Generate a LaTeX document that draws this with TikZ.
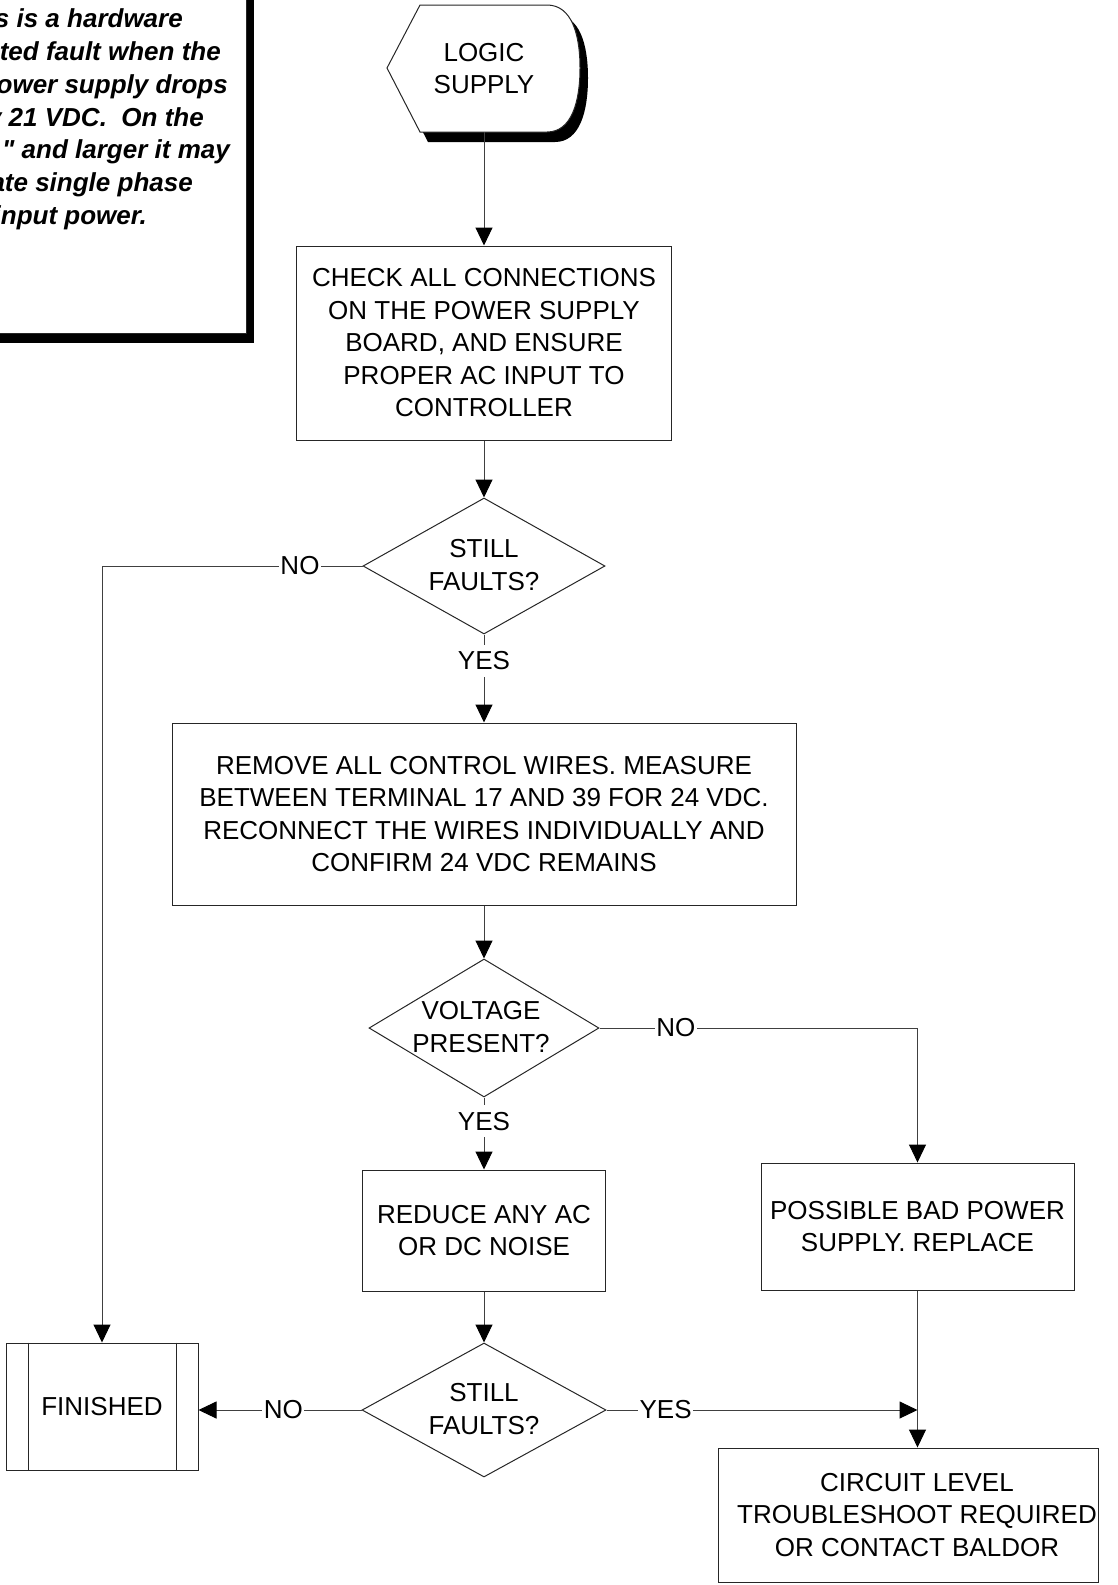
\documentclass[tikz,border=0pt]{standalone}
\usepackage{fontspec}
\setmainfont{Liberation Sans}[Ligatures=TeXOff]
\usetikzlibrary{shapes.geometric,arrows.meta}

\begin{document}
\begin{tikzpicture}[x=1pt,y=-1pt,
  every node/.style={font=\fontsize{26}{32.5}\selectfont},
  ink/.style={draw=black!85, line width=1pt},
  box/.style={ink, fill=white, rectangle, align=center, inner sep=0pt},
  dia/.style={ink, fill=white, diamond, inner sep=0pt},
  txt/.style={align=center, inner sep=0pt},
  note/.style={inner sep=0pt, font=\fontsize{26}{32.5}\selectfont\bfseries\itshape},
  conn/.style={draw=black!75, line width=1pt, -{Triangle[length=18pt,width=17pt,color=black]}},
  lab/.style={fill=white, inner xsep=1.5pt, inner ysep=7pt},
  shade/.style={fill=black},
]
\useasboundingbox (0,0) rectangle (1118,1585);

% side note with drop shadow
\fill[shade] (-22,-22) rectangle (254,343);
\draw[ink, fill=white] (-30,-32) rectangle (246,333);
\node[note, anchor=base east] (n1) at (183,27)  {s is a hardware};
\node[note, anchor=base east] (n2) at (221,60)  {ted fault when the};
\node[note, anchor=base east] (n3) at (228,93)  {ower supply drops};
\node[note, anchor=base east] (n4) at (204,126) {y 21 VDC.\ \ On the};
\node[note, anchor=base east] (n5) at (230,158) {" and larger it may};
\node[note, anchor=base east] (n6) at (193,191) {ate single phase};
\node[note, anchor=base east] (n7) at (147,224) {input power.};

% start terminal (display symbol) with drop shadow
\fill[shade, shift={(8,10)}] (387,68) -- (420,5) -- (547,5)
  .. controls (572,5) and (580,35) .. (580,68)
  .. controls (580,101) and (572,132) .. (547,132) -- (420,132) -- cycle;
\draw[ink, fill=white] (387,68) -- (420,5) -- (547,5)
  .. controls (572,5) and (580,35) .. (580,68)
  .. controls (580,101) and (572,132) .. (547,132) -- (420,132) -- cycle;
\node[txt, minimum width=193, minimum height=127] (logic) at (484,68.5) {LOGIC\\SUPPLY};

% process boxes and decisions
\node[box, minimum width=375, minimum height=194] (check) at (484,343)
  {CHECK ALL CONNECTIONS\\ON THE POWER SUPPLY\\BOARD, AND ENSURE\\PROPER AC INPUT TO\\CONTROLLER};

\node[dia, minimum width=242, minimum height=136] (q1) at (484,566) {};
\node[txt] (q1t) at (484,565) {STILL\\FAULTS?};

\node[box, minimum width=624, minimum height=182] (remove) at (484,814)
  {REMOVE ALL CONTROL WIRES. MEASURE\\BETWEEN TERMINAL 17 AND 39 FOR 24 VDC.\\RECONNECT THE WIRES INDIVIDUALLY AND\\CONFIRM 24 VDC REMAINS};

\node[dia, minimum width=230, minimum height=138] (q2) at (484,1028) {};
\node[txt] (q2t) at (481,1027) {VOLTAGE\\PRESENT?};

\node[box, minimum width=243, minimum height=121] (reduce) at (484,1230.5)
  {REDUCE ANY AC\\OR DC NOISE};

\node[box, minimum width=313, minimum height=127] (bad) at (917.5,1226.5)
  {POSSIBLE BAD POWER\\SUPPLY. REPLACE};

\node[dia, minimum width=244, minimum height=134] (q3) at (484,1410) {};
\node[txt] (q3t) at (484,1409) {STILL\\FAULTS?};

% predefined-process terminal
\node[box, minimum width=192, minimum height=127] (fin) at (102,1406.5) {FINISHED};
\draw[ink] ([xshift=23]fin.north west) -- ([xshift=23]fin.south west);
\draw[ink] ([xshift=-22]fin.north east) -- ([xshift=-22]fin.south east);

\node[box, minimum width=380, minimum height=134] (circ) at (908,1515) {};
\node[txt] (circt) at (917,1515) {CIRCUIT LEVEL\\TROUBLESHOOT REQUIRED\\OR CONTACT BALDOR};

% connectors
\draw[conn] (logic.south) -- (check.north);
\draw[conn] (check.south) -- (q1.north);
\draw[conn] (q1.south) -- node[lab, pos=0.3] {YES} (remove.north);
\draw[conn] (q1.west) -- node[lab, pos=0.24] {NO} (q1.west -| fin.north) -- (fin.north);
\draw[conn] (remove.south) -- (q2.north);
\draw[conn] (q2.east) -- node[lab, pos=0.24] {NO} (q2.east -| bad.north) -- (bad.north);
\draw[conn] (q2.south) -- node[lab, pos=0.33] {YES} (reduce.north);
\draw[conn] (reduce.south) -- (q3.north);
\draw[conn] (q3.west) -- node[lab, pos=0.48] {NO} (q3.west -| fin.east);
\draw[conn] (q3.east) -- node[lab, pos=0.19] {YES} (q3.east -| bad.south);
\draw[conn] (bad.south) -- (bad.south |- circ.north);
\end{tikzpicture}
\end{document}
